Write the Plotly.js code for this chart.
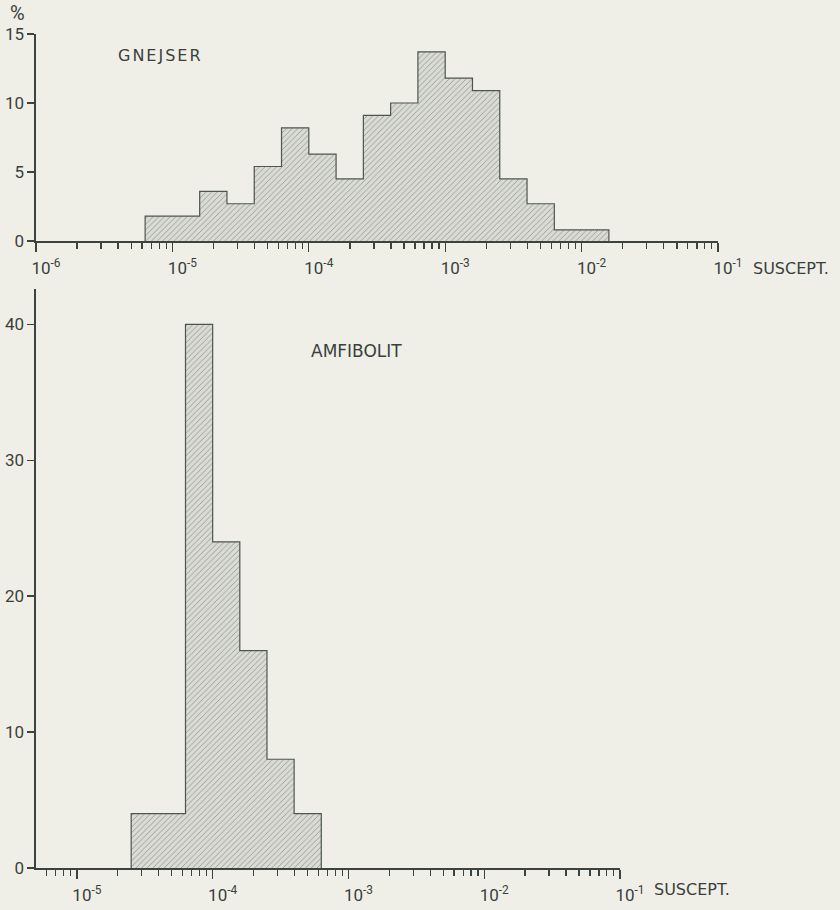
<!DOCTYPE html>
<html>
<head>
<meta charset="utf-8">
<script src="https://cdn.plot.ly/plotly-3.0.1.min.js"></script>
<style>
html,body{margin:0;padding:0;background:#efefe8;}
#chart{width:840px;height:910px;}
g.annotation[data-index="1"] text{letter-spacing:2px;}
</style>
</head>
<body>
<div id="chart"></div>
<script>
// Bin edges as log10(susceptibility)
const gnejserEdgesLog = [-5.2, -4.8, -4.6, -4.4, -4.2, -4.0, -3.8, -3.6, -3.4, -3.2, -3.0, -2.8, -2.6, -2.4, -2.2, -1.8];
const gnejserPct      = [1.8, 3.6, 2.7, 5.4, 8.2, 6.3, 4.5, 9.1, 10.0, 13.7, 11.8, 10.9, 4.5, 2.7, 0.8];

const amfibolitEdgesLog = [-4.6, -4.2, -4.0, -3.8, -3.6, -3.4, -3.2];
const amfibolitPct      = [4, 40, 24, 16, 8, 4];

const topDecadesLog = [-6, -5, -4, -3, -2, -1];
const topTickText = ["10<sup>-6</sup>", "10<sup>-5</sup>", "10<sup>-4</sup>", "10<sup>-3</sup>", "10<sup>-2</sup>", "10<sup>-1</sup>"];
const botDecadesLog = [-5, -4, -3, -2, -1];
const botTickText = ["10<sup>-5</sup>", "10<sup>-4</sup>", "10<sup>-3</sup>", "10<sup>-2</sup>", "10<sup>-1</sup>"];
const topYTicks = [0, 5, 10, 15];
const botYTicks = [0, 10, 20, 30, 40];
const minorMantissas = [2, 3, 4, 5, 6, 7, 8, 9];

function stepXY(edgesLog, vals) {
  const e = edgesLog.map(v => Math.pow(10, v));
  const x = [e[0]].concat(e);
  const y = [0].concat(vals).concat([0]);
  return {x, y};
}
function minorVals(fromExp, toExp) {
  const out = [];
  for (let k = fromExp; k < toExp; k++) minorMantissas.forEach(m => out.push(m * Math.pow(10, k)));
  return out;
}

const ink = '#3c423f';
const fp = {shape: '/', size: 4, solidity: 0.2, fgcolor: '#8e928b', bgcolor: '#dadcd4', fillmode: 'replace'};

const g = stepXY(gnejserEdgesLog, gnejserPct);
const a = stepXY(amfibolitEdgesLog, amfibolitPct);

const traces = [
  {x: g.x, y: g.y, type: 'scatter', mode: 'lines', line: {shape: 'hv', color: '#4d5551', width: 1.2},
   fill: 'tozeroy', fillcolor: '#dadcd4', fillpattern: fp, xaxis: 'x', yaxis: 'y', hoverinfo: 'skip'},
  {x: a.x, y: a.y, type: 'scatter', mode: 'lines', line: {shape: 'hv', color: '#4d5551', width: 1.2},
   fill: 'tozeroy', fillcolor: '#dadcd4', fillpattern: fp, xaxis: 'x2', yaxis: 'y2', hoverinfo: 'skip'}
];

const fam = 'Roboto, "DejaVu Sans", sans-serif';
const annFam = '"DejaVu Sans", Roboto, sans-serif';
const txt = '#3a3f3c';

function xax(range, decs, texts, anchor, domain, minors) {
  return {
    type: 'log', range: range, domain: domain, anchor: anchor,
    tickmode: 'array', tickvals: decs.map(v => Math.pow(10, v)), ticktext: texts,
    ticks: 'outside', ticklen: 9, tickwidth: 1.4, tickcolor: ink,
    minor: {tickmode: 'array', tickvals: minors, ticks: 'outside', ticklen: 6, tickwidth: 1.3, tickcolor: ink},
    showline: true, linecolor: ink, linewidth: 1.6, showgrid: false, zeroline: false,
    ticklabelshift: 10, ticklabelstandoff: 2,
    tickfont: {family: fam, size: 17, color: txt}, fixedrange: true
  };
}
function yax(range, ticks, anchor, domain) {
  return {
    range: range, domain: domain, anchor: anchor, tickmode: 'array', tickvals: ticks,
    ticks: 'outside', ticklen: 7, tickwidth: 1.4, tickcolor: ink,
    showline: true, linecolor: ink, linewidth: 1.6, showgrid: false, zeroline: false,
    tickfont: {family: fam, size: 17, color: txt}, fixedrange: true
  };
}

const layout = {
  width: 840, height: 910,
  margin: {l: 0, r: 0, t: 0, b: 0},
  paper_bgcolor: '#efefe8', plot_bgcolor: 'rgba(0,0,0,0)',
  showlegend: false, font: {family: fam, size: 14, color: txt},
  xaxis: xax([-6, -1], topDecadesLog, topTickText, 'y', [36/840, 718/840], minorVals(-6, -1)),
  yaxis: yax([0, 15], topYTicks, 'x', [(910-241)/910, (910-34)/910]),
  xaxis2: xax([Math.log10(5e-6), -1], botDecadesLog, botTickText, 'y2', [36/840, 620/840], minorVals(-6, -1).filter(v => v >= 5e-6)),
  yaxis2: yax([0, 42.6], botYTicks, 'x2', [(910-868)/910, (910-289)/910]),
  annotations: [
    {text: '%', xref: 'paper', yref: 'paper', x: 17/840, y: 1 - 13/910, showarrow: false, xanchor: 'center', yanchor: 'middle', font: {family: fam, size: 20, color: txt}},
    {text: 'GNEJSER', xref: 'paper', yref: 'paper', x: 123/840, y: 1 - 55/910, showarrow: false, xanchor: 'left', yanchor: 'middle', font: {family: annFam, size: 16, color: txt}},
    {text: 'AMFIBOLIT', xref: 'paper', yref: 'paper', x: 309/840, y: 1 - 351/910, showarrow: false, xanchor: 'left', yanchor: 'middle', font: {family: annFam, size: 17, color: txt}},
    {text: 'SUSCEPT.', xref: 'paper', yref: 'paper', x: 751/840, y: 1 - 268/910, showarrow: false, xanchor: 'left', yanchor: 'middle', font: {family: annFam, size: 16, color: txt}},
    {text: 'SUSCEPT.', xref: 'paper', yref: 'paper', x: 652/840, y: 1 - 889/910, showarrow: false, xanchor: 'left', yanchor: 'middle', font: {family: annFam, size: 16, color: txt}}
  ]
};

Plotly.newPlot('chart', traces, layout, {displayModeBar: false, staticPlot: true});
</script>
</body>
</html>
